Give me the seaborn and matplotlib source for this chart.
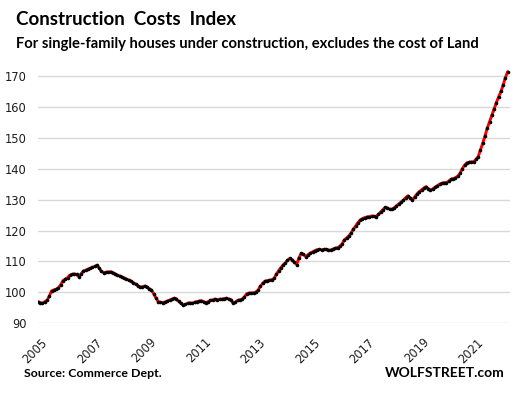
import matplotlib
matplotlib.use("Agg")
import matplotlib.pyplot as plt
import matplotlib.transforms as mtransforms
import seaborn as sns
import pandas as pd

# ---- data (monthly index, Jan 2005 - Apr 2022) ----
start_month = "2005-01-01"
y2005 = [97.0, 96.7, 96.5, 97.0, 97.4, 98.8, 100.5, 100.8, 101.0, 101.5, 102.5, 103.8]
y2006 = [104.3, 104.8, 105.5, 105.8, 106.0, 105.8, 105.1, 106.0, 106.9, 107.2, 107.5, 107.8]
y2007 = [108.1, 108.4, 108.8, 107.9, 106.8, 106.4, 106.5, 106.6, 106.7, 106.4, 106.0, 105.6]
y2008 = [105.3, 105.0, 104.6, 104.3, 104.0, 103.6, 103.2, 102.7, 102.2, 101.7, 101.8, 102.1]
y2009 = [101.8, 101.2, 100.8, 99.6, 98.2, 97.0, 96.8, 96.7, 96.9, 97.2, 97.5, 97.8]
y2010 = [98.1, 97.9, 97.1, 96.5, 95.9, 96.1, 96.5, 96.6, 96.5, 96.8, 97.0, 97.2]
y2011 = [97.3, 97.0, 96.7, 97.0, 97.4, 97.6, 97.8, 97.7, 97.8, 97.8, 98.0, 98.1]
y2012 = [97.9, 97.6, 96.5, 96.9, 97.4, 97.6, 97.8, 98.6, 99.6, 99.8, 99.8, 99.9]
y2013 = [100.1, 100.8, 102.0, 102.9, 103.6, 103.8, 103.9, 104.1, 104.5, 105.8, 107.0, 108.0]
y2014 = [108.9, 109.6, 110.4, 111.0, 110.6, 109.8, 109.0, 111.2, 112.6, 112.3, 111.6, 112.2]
y2015 = [112.7, 113.1, 113.5, 113.8, 113.9, 113.8, 113.9, 113.9, 113.7, 113.7, 114.0, 114.3]
y2016 = [114.5, 114.9, 115.6, 117.0, 117.6, 118.3, 119.2, 120.5, 121.5, 122.6, 123.4, 123.9]
y2017 = [124.2, 124.4, 124.5, 124.7, 124.6, 124.5, 125.2, 126.0, 126.8, 127.5, 127.3, 126.9]
y2018 = [126.9, 127.4, 128.0, 128.6, 129.2, 129.8, 130.6, 131.2, 130.6, 129.9, 130.9, 131.8]
y2019 = [132.6, 133.2, 133.7, 134.2, 133.6, 133.1, 133.5, 134.0, 134.5, 135.0, 135.3, 135.5]
y2020 = [135.5, 136.0, 136.6, 136.8, 137.1, 137.6, 138.5, 140.0, 141.2, 141.9, 142.1, 142.2]
y2021 = [142.3, 143.0, 143.9, 146.0, 148.3, 150.6, 153.1, 155.2, 157.3, 159.4, 161.4, 163.3]
y2022 = [165.0, 167.2, 169.4, 171.4]

values = (y2005 + y2006 + y2007 + y2008 + y2009 + y2010 + y2011 + y2012 + y2013
          + y2014 + y2015 + y2016 + y2017 + y2018 + y2019 + y2020 + y2021 + y2022)
tick_years = [2005, 2007, 2009, 2011, 2013, 2015, 2017, 2019, 2021]
y_ticks = [90, 100, 110, 120, 130, 140, 150, 160, 170]

df = pd.DataFrame({
    "date": pd.date_range(start_month, periods=len(values), freq="MS"),
    "index": values,
})

sns.set_theme(style="white")
plt.rcParams["font.family"] = ["DejaVu Sans"]

fig = plt.figure(figsize=(5.14, 3.93), dpi=100)
ax = fig.add_axes([0.074, 0.1773, 0.918, 0.653])

sns.lineplot(data=df, x="date", y="index", ax=ax, color="#ff0000", linewidth=2.1,
             marker="o", markersize=2.6, markerfacecolor="black",
             markeredgecolor="black", markeredgewidth=0)

ax.set_ylim(90, 173)
ax.set_xlim(pd.Timestamp("2005-01-01"), pd.Timestamp("2022-05-01"))
ax.set_yticks(y_ticks)
ax.set_xticks([pd.Timestamp(f"{y}-01-01") for y in tick_years])
ax.set_xticklabels([str(y) for y in tick_years])
ax.grid(axis="y", color="#d9d9d9", linewidth=1)
ax.grid(axis="x", visible=False)
for s in ax.spines.values():
    s.set_visible(False)
ax.set_xlabel("")
ax.set_ylabel("")
ax.tick_params(axis="y", length=0, pad=8, labelsize=8.3, labelcolor="#1c1c1c")
ax.tick_params(axis="x", length=0, pad=9, labelsize=8.3, labelcolor="#1c1c1c")
offset = mtransforms.ScaledTranslation(3 / 100, 0, fig.dpi_scale_trans)
for lab in ax.get_xticklabels():
    lab.set_rotation(45)
    lab.set_ha("right")
    lab.set_va("top")
    lab.set_rotation_mode("anchor")
    lab.set_transform(lab.get_transform() + offset)

fig.text(16 / 514, 1 - 25 / 393, "Construction  Costs  Index", fontsize=13.5,
         fontweight="bold", family=["Lato", "DejaVu Sans"], color="black",
         ha="left", va="baseline")
fig.text(16 / 514, 1 - 48 / 393, "For single-family houses under construction, excludes the cost of Land",
         fontsize=10.6, fontweight="bold", family=["Lato", "DejaVu Sans"], color="black",
         ha="left", va="baseline")
fig.text(24 / 514, 1 - 377 / 393, "Source: Commerce Dept.", fontsize=8.9,
         fontweight="bold", family=["Lato", "DejaVu Sans"], color="black",
         ha="left", va="baseline")
fig.text(505 / 514, 1 - 377 / 393, "WOLFSTREET.com", fontsize=10.0,
         fontweight="bold", family=["Lato", "DejaVu Sans"], color="black",
         ha="right", va="baseline")

fig.savefig("out.png", dpi=100)
